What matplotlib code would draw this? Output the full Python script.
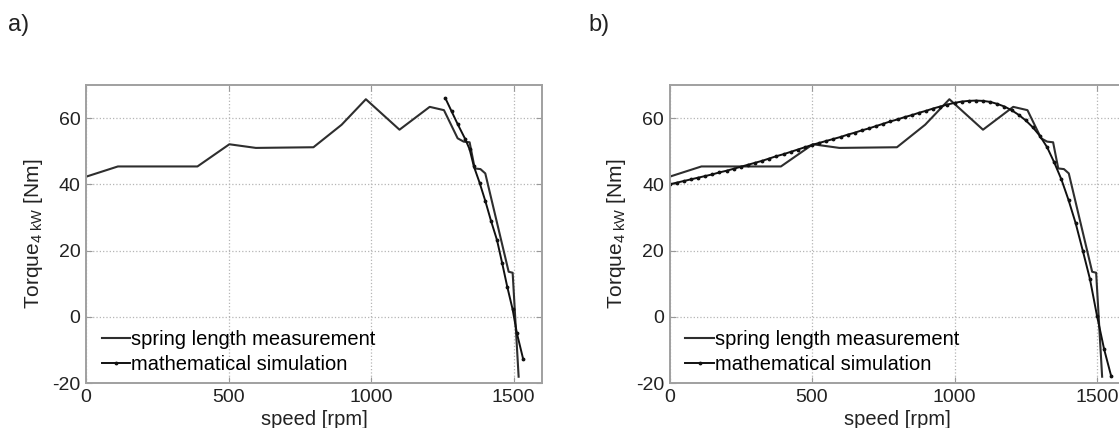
import matplotlib
matplotlib.use("Agg")
import matplotlib.pyplot as plt

plt.rcParams['font.family'] = ['Liberation Sans', 'DejaVu Sans']
plt.rcParams['mathtext.fontset'] = 'custom'
plt.rcParams['mathtext.rm'] = 'Liberation Sans'
plt.rcParams['mathtext.it'] = 'Liberation Sans:italic'
plt.rcParams['axes.unicode_minus'] = False

# spring length measurement (same in both panels)
meas_speed = [0, 112, 391, 503, 596, 798, 897, 982, 1100, 1206, 1256, 1304, 1325,
              1346, 1364, 1384, 1401, 1483, 1497, 1518]
meas_torque = [42.3, 45.4, 45.4, 52.1, 51.0, 51.2, 58.0, 65.7, 56.5, 63.4, 62.4, 53.9,
               52.9, 52.7, 44.8, 44.6, 43.3, 13.6, 13.3, -18.1]

# a) mathematical simulation (only near the end)
sim_a_speed = [1261, 1283, 1304, 1331, 1346, 1361, 1381, 1401, 1421, 1442, 1460, 1478,
               1497, 1512, 1534]
sim_a_torque = [66.0, 62.0, 58.2, 53.6, 50.6, 45.4, 40.5, 35.0, 29.0, 23.2, 16.3, 9.1,
                2.2, -5.0, -12.8]

# b) mathematical simulation (full range)
sim_b_speed = [0, 25, 50, 75, 100, 125, 150, 175, 200, 225, 250, 275, 300, 325, 350,
               375, 400, 425, 450, 475, 500, 525, 550, 575, 600, 625, 650, 675, 700,
               725, 750, 775, 800, 825, 850, 875, 900, 925, 950, 975, 1000, 1025, 1050,
               1075, 1100, 1125, 1150, 1175, 1200, 1225, 1250, 1275, 1300, 1325, 1350,
               1375, 1400, 1425, 1450, 1475, 1500, 1525, 1550]
sim_b_torque = [40.0, 40.5, 41.0, 41.5, 42.0, 42.5, 43.0, 43.6, 44.1, 44.7, 45.3, 45.9,
                46.5, 47.1, 47.8, 48.5, 49.1, 49.8, 50.5, 51.2, 51.9, 52.5, 53.1, 53.7,
                54.3, 55.0, 55.6, 56.3, 56.9, 57.6, 58.3, 59.0, 59.6, 60.3, 60.9, 61.6,
                62.2, 62.9, 63.5, 64.1, 64.6, 65.0, 65.2, 65.3, 65.2, 64.9, 64.3, 63.5,
                62.4, 61.0, 59.3, 57.2, 54.6, 51.2, 46.6, 41.5, 35.3, 28.3, 20.0, 11.5,
                0.3, -9.8, -18.0]

xticks = [0, 500, 1000, 1500]
yticks = [-20, 0, 20, 40, 60]

W, H = 1119, 428
fig = plt.figure(figsize=(W / 100, H / 100), dpi=100)

ax_a = fig.add_axes([86 / W, 45 / H, 456 / W, 298 / H])
ax_b = fig.add_axes([669.5 / W, 45 / H, 456 / W, 298 / H])

panels = [(ax_a, sim_a_speed, sim_a_torque, 'a)', 8),
          (ax_b, sim_b_speed, sim_b_torque, 'b)', 588)]

for ax, sx, sy, tag, tx in panels:
    ax.plot(meas_speed, meas_torque, color='#2e2e2e', lw=1.5,
            label='spring length measurement')
    ax.plot(sx, sy, color='#111111', lw=1.4, marker='.', ms=3.5,
            label='mathematical simulation')
    ax.set_xlim(0, 1600)
    ax.set_ylim(-20, 70)
    ax.set_xticks(xticks)
    ax.set_yticks(yticks)
    ax.grid(True, ls=':', color='#b5b5b5', lw=0.9)
    ax.tick_params(direction='in', length=4, color='#999999', labelsize=14,
                   labelcolor='#222222', top=True, right=True, pad=4)
    for s in ax.spines.values():
        s.set_color('#a0a0a0')
        s.set_linewidth(1.4)
    ax.set_xlabel('speed [rpm]', fontsize=14.5, color='#222222')
    ax.set_ylabel('Torque$_\\mathrm{4\\ kW}$ [Nm]', fontsize=15, color='#222222')
    ax.xaxis.set_label_coords(0.5, -0.09)
    ax.yaxis.set_label_coords(-0.09, 0.5)
    ax.legend(loc='lower left', bbox_to_anchor=(0.035, 0.03), frameon=False,
              fontsize=14.5, handlelength=1.4, handletextpad=0.05,
              borderaxespad=0, borderpad=0, labelspacing=0.3)
    fig.text(tx / W, 1 - 14 / H, tag, fontsize=17, va='top', ha='left', color='#222222')

fig.savefig('out.png', dpi=100)
